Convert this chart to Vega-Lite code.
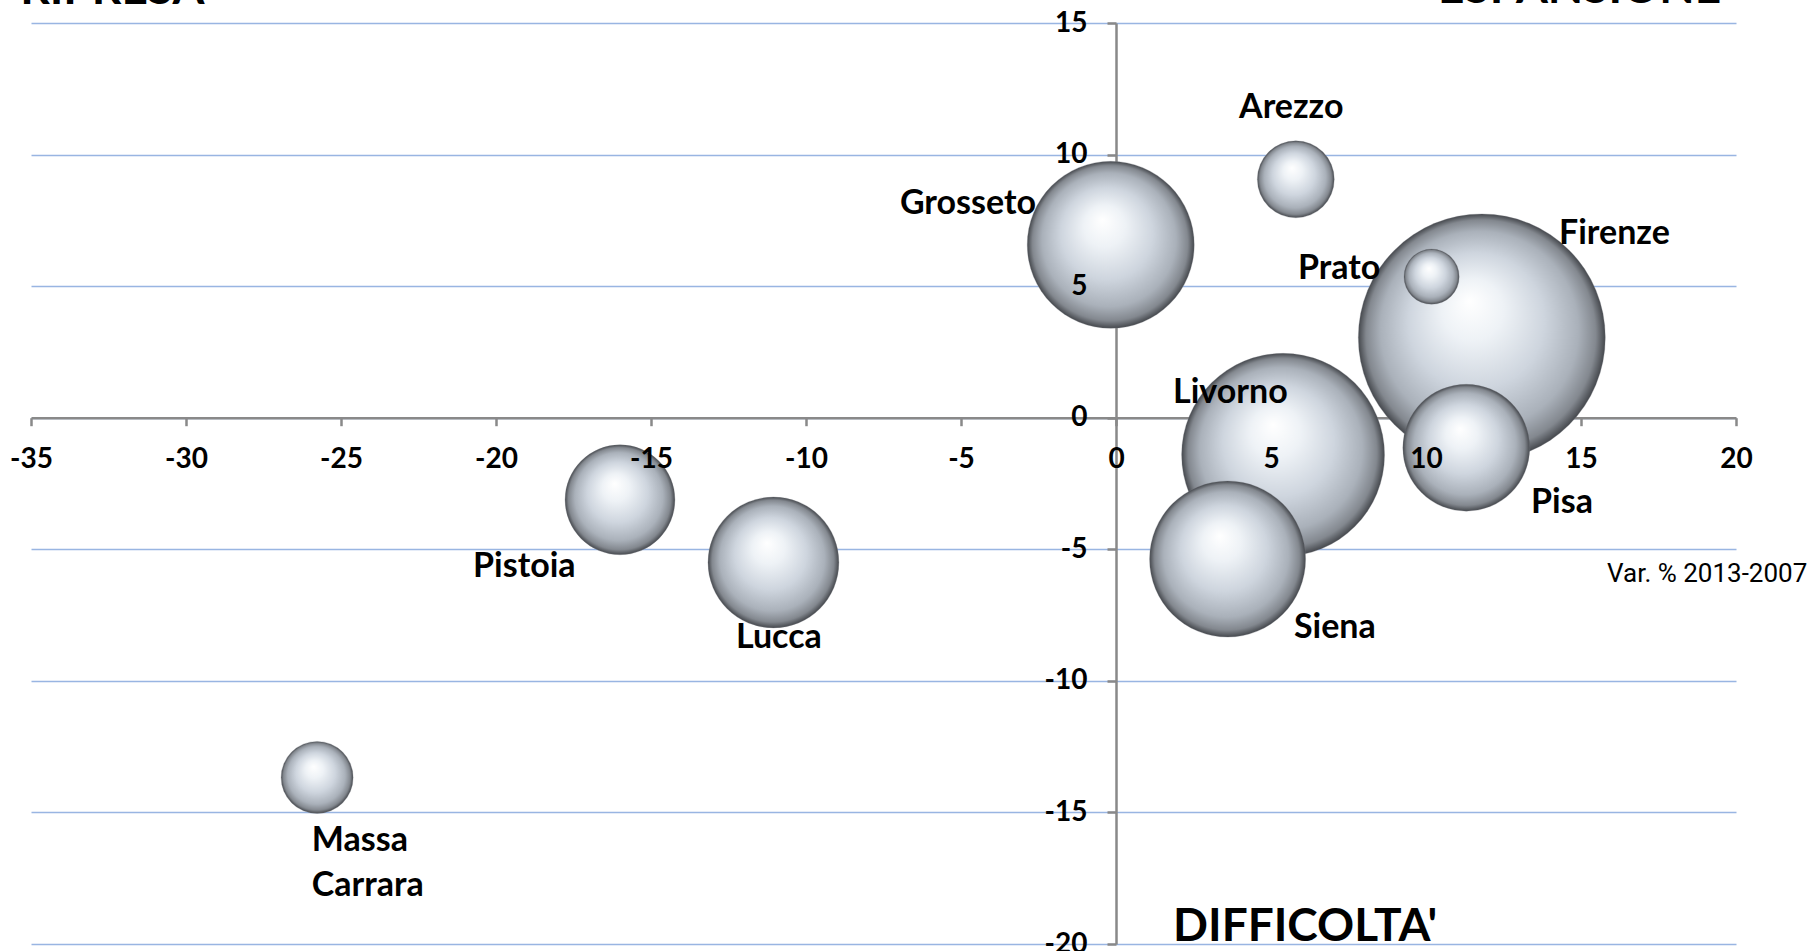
{
  "$schema": "https://vega.github.io/schema/vega-lite/v6.json",
  "width": 1705,
  "height": 921,
  "autosize": "none",
  "padding": {"left": 31, "top": 23, "right": 81, "bottom": 7},
  "background": "white",
  "config": {"view": {"stroke": null}},
  "data": {
    "values": [
      {"name": "Firenze", "x": 11.8, "y": 3.05, "size": 100, "lx": 14.29, "ly": 6.61},
      {"name": "Livorno", "x": 5.39, "y": -1.41, "size": 67.5, "lx": 1.84, "ly": 0.57},
      {"name": "Grosseto", "x": -0.17, "y": 6.57, "size": 45.7, "lx": -6.97, "ly": 7.75},
      {"name": "Siena", "x": 3.6, "y": -5.37, "size": 39.9, "lx": 5.74, "ly": -8.36},
      {"name": "Lucca", "x": -11.05, "y": -5.5, "size": 28.1, "lx": -12.26, "ly": -8.77},
      {"name": "Pisa", "x": 11.3, "y": -1.14, "size": 26.4, "lx": 13.39, "ly": -3.61},
      {"name": "Pistoia", "x": -16.0, "y": -3.12, "size": 19.8, "lx": -20.74, "ly": -6.04},
      {"name": "Arezzo", "x": 5.8, "y": 9.06, "size": 9.7, "lx": 3.97, "ly": 11.39},
      {"name": "Massa\nCarrara", "x": -25.77, "y": -13.67, "size": 8.5, "lx": -25.94, "ly": -16.48},
      {"name": "Prato", "x": 10.18, "y": 5.36, "size": 5.0, "lx": 5.87, "ly": 5.28}
    ]
  },
  "layer": [
    {
      "mark": {
        "type": "circle",
        "opacity": 1,
        "fill": {
          "gradient": "radial",
          "x1": 0.45, "y1": 0.35, "r1": 0,
          "x2": 0.5, "y2": 0.5, "r2": 0.5,
          "stops": [
            {"offset": 0, "color": "#ffffff"},
            {"offset": 0.25, "color": "#eef2f6"},
            {"offset": 0.55, "color": "#ced5de"},
            {"offset": 0.8, "color": "#aab1ba"},
            {"offset": 0.93, "color": "#83888f"},
            {"offset": 1, "color": "#45484d"}
          ]
        },
        "stroke": "#7d8187",
        "strokeWidth": 0.6,
        "strokeOpacity": 0.5
      },
      "encoding": {
        "x": {
          "field": "x", "type": "quantitative",
          "scale": {"domain": [-35, 20], "nice": false, "zero": false},
          "axis": {
            "orient": "bottom", "offset": -526.3, "title": null,
            "values": [-35, -30, -25, -20, -15, -10, -5, 0, 5, 10, 15, 20],
            "labels": false, "grid": false,
            "domainColor": "#898989", "domainWidth": 2.5,
            "tickColor": "#898989", "tickWidth": 2.5, "tickSize": 8,
            "zindex": 0
          }
        },
        "y": {
          "field": "y", "type": "quantitative",
          "scale": {"domain": [-20, 15], "nice": false, "zero": false},
          "axis": {
            "orient": "left", "offset": -1085, "title": null,
            "values": [-20, -15, -10, -5, 0, 5, 10, 15],
            "labels": false, "grid": true,
            "gridColor": "#99b5e2", "gridWidth": 1.6,
            "domainColor": "#898989", "domainWidth": 2.5,
            "tickColor": "#898989", "tickWidth": 2.5, "tickSize": 9,
            "zindex": 0
          }
        },
        "size": {
          "field": "size", "type": "quantitative",
          "scale": {"domain": [0, 100], "range": [0, 61009]},
          "legend": null
        }
      }
    },
    {
      "mark": {
        "type": "text", "font": "Lato", "fontWeight": "bold", "fontSize": 34,
        "align": "left", "baseline": "alphabetic", "lineBreak": "\n", "lineHeight": 45,
        "color": "#000000"
      },
      "encoding": {
        "x": {
          "field": "lx", "type": "quantitative",
          "axis": {
            "orient": "bottom", "offset": -526.3, "title": null,
            "values": [-35, -30, -25, -20, -15, -10, -5, 0, 5, 10, 15, 20],
            "labelExpr": "datum.value + ''",
            "domain": false, "ticks": false, "grid": false,
            "labelFont": "Lato", "labelFontWeight": "bold", "labelFontSize": 28,
            "labelColor": "#000000", "labelPadding": 28, "labelFlush": false,
            "labelOverlap": false, "zindex": 1
          }
        },
        "y": {
          "field": "ly", "type": "quantitative",
          "axis": {
            "orient": "left", "offset": -1085, "title": null,
            "values": [-20, -15, -10, -5, 0, 5, 10, 15],
            "labelExpr": "datum.value + ''",
            "domain": false, "ticks": false, "grid": false,
            "labelFont": "Lato", "labelFontWeight": "bold", "labelFontSize": 28,
            "labelColor": "#000000", "labelPadding": 29, "labelFlush": false,
            "labelOverlap": false, "zindex": 1
          }
        },
        "text": {"field": "name"}
      }
    },
    {
      "data": {
        "values": [
          {"label": "RIPRESA", "qx": -35.35, "qy": 15.72},
          {"label": "ESPANSIONE", "qx": 10.39, "qy": 15.75},
          {"label": "DIFFICOLTA'", "qx": 1.84, "qy": -19.9}
        ]
      },
      "mark": {
        "type": "text", "font": "Lato", "fontWeight": "bold", "fontSize": 46,
        "align": "left", "baseline": "alphabetic", "color": "#000000"
      },
      "encoding": {
        "x": {"field": "qx", "type": "quantitative", "axis": null},
        "y": {"field": "qy", "type": "quantitative", "axis": null},
        "text": {"field": "label"}
      }
    },
    {
      "data": {"values": [{"label": "Var. % 2013-2007", "vx": 15.84, "vy": -6.25}]},
      "mark": {
        "type": "text", "font": "Roboto", "fontSize": 26,
        "align": "left", "baseline": "alphabetic", "color": "#000000"
      },
      "encoding": {
        "x": {"field": "vx", "type": "quantitative", "axis": null},
        "y": {"field": "vy", "type": "quantitative", "axis": null},
        "text": {"field": "label"}
      }
    }
  ],
  "resolve": {"axis": {"x": "independent", "y": "independent"}}
}
